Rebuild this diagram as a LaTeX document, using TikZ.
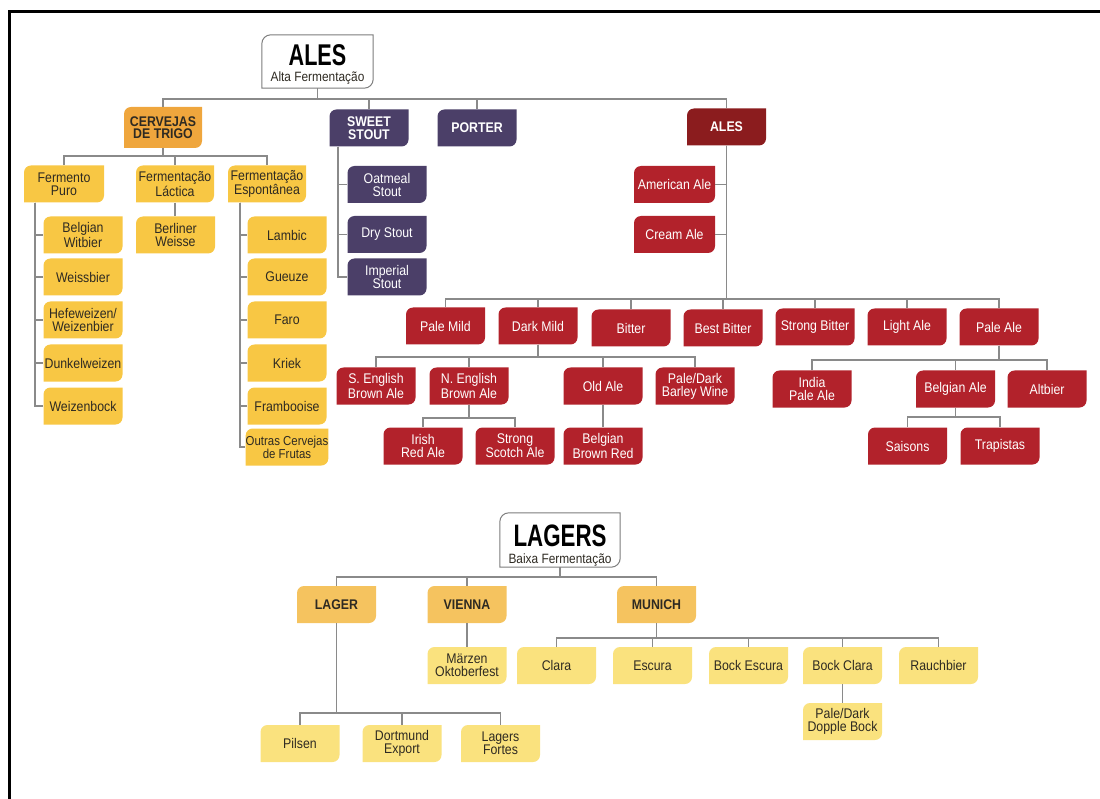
\documentclass[tikz,border=0pt]{standalone}
\usepackage{fontspec}
\setmainfont{Liberation Sans}[FakeStretch=0.88]
\newfontfamily\hd{Liberation Sans}[FakeStretch=0.72]
\definecolor{cWheat}{HTML}{F8C744}
\definecolor{cTrigo}{HTML}{EFA63D}
\definecolor{cLagerH}{HTML}{F5C35F}
\definecolor{cLagerL}{HTML}{FAE27E}
\definecolor{cPurple}{HTML}{4B3F68}
\definecolor{cRed}{HTML}{B2222B}
\definecolor{cDRed}{HTML}{8B1C1E}
\definecolor{cLine}{HTML}{8A8A8A}
\definecolor{cTxt}{HTML}{2E2A22}
\newcommand\leafshape[2]{(#1.south west) -- ([yshift=-#2]#1.north west) arc[start angle=180,end angle=90,radius=#2] -- (#1.north east) -- ([yshift=#2]#1.south east) arc[start angle=0,end angle=-90,radius=#2] -- cycle}
\tikzset{
  base/.style={inner sep=0pt, minimum width=79pt, minimum height=37pt, align=center, font=\fontsize{14}{13}\selectfont},
  leaf/.style={fill=white, path picture={\fill[#1] \leafshape{path picture bounding box}{7pt};}},
  wbox/.style={base, leaf=cWheat, text=cTxt},
  tbox/.style={base, leaf=cTrigo, text=cTxt, font=\bfseries\fontsize{14}{12.5}\selectfont},
  pbox/.style={base, leaf=cPurple, text=white},
  phbox/.style={pbox, font=\bfseries\fontsize{14}{12.5}\selectfont},
  rbox/.style={base, leaf=cRed, text=white},
  drbox/.style={base, leaf=cDRed, text=white, font=\bfseries\fontsize{14}{12.5}\selectfont},
  lhbox/.style={base, leaf=cLagerH, text=cTxt, font=\bfseries\fontsize{14}{12.5}\selectfont},
  llbox/.style={base, leaf=cLagerL, text=cTxt},
  rootbox/.style={inner sep=0pt},
  rootline/.style={draw=cLine!90!black, line width=1pt, fill=white},
  roottitle/.style={anchor=base, inner sep=0pt, text=black, font=\hd\bfseries\fontsize{30}{30}\selectfont},
  rootsub/.style={anchor=base, inner sep=0pt, text=cTxt, font=\fontsize{13.5}{13.5}\selectfont},
  conn/.style={draw=cLine, line width=1.2pt},
}
\begin{document}
\begin{tikzpicture}[x=1pt,y=1pt]
\useasboundingbox (0,0) rectangle (1100,-799);
\draw[line width=3pt] (9.5,-799) -- (9.5,-11.5) -- (1100,-11.5);

% ---------- ALES ----------
\node[rootbox, minimum width=111pt, minimum height=53pt] (ales) at (317.5,-61.5) {};
\draw[rootline] \leafshape{ales}{9pt};
\node[roottitle] (alestitle) at (317.5,-65.5) {ALES};
\node[rootsub] (alessub) at (317.5,-82) {Alta Fermentação};

\node[tbox, minimum width=78pt, minimum height=41pt] (trigo) at (163,-127.5) {CERVEJAS\\DE TRIGO};
\node[phbox] (sweet) at (369,-128) {SWEET\\STOUT};
\node[phbox] (porter) at (477,-128) {PORTER};
\node[drbox] (alesr) at (726.5,-127) {ALES};

\node[wbox, minimum width=80pt] (puro) at (64,-184) {Fermento\\Puro};
\node[wbox, minimum width=78pt] (lactica) at (175,-184) {Fermentação\\Láctica};
\node[wbox, minimum width=78pt] (espont) at (267,-184) {Fermentação\\Espontânea};

\node[wbox] (witbier) at (83,-235) {Belgian\\Witbier};
\node[wbox] (weissbier) at (83,-277) {Weissbier};
\node[wbox] (hefe) at (83,-320) {Hefeweizen/\\Weizenbier};
\node[wbox] (dunkel) at (83,-363) {Dunkelweizen};
\node[wbox] (weizenbock) at (83,-406) {Weizenbock};

\node[wbox] (berliner) at (175.5,-235) {Berliner\\Weisse};

\node[wbox] (lambic) at (287,-235) {Lambic};
\node[wbox] (gueuze) at (287,-277) {Gueuze};
\node[wbox] (faro) at (287,-320) {Faro};
\node[wbox] (kriek) at (287,-363) {Kriek};
\node[wbox] (framb) at (287,-406) {Frambooise};
\node[wbox, font=\fontsize{13}{12}\selectfont] (outras) at (287,-447) {Outras Cervejas\\de Frutas};

\node[pbox] (oatmeal) at (387,-184.5) {Oatmeal\\Stout};
\node[pbox] (dry) at (387,-234.5) {Dry Stout};
\node[pbox] (imperial) at (387,-277) {Imperial\\Stout};

\node[rbox, minimum width=81pt] (american) at (674.5,-184.5) {American Ale};
\node[rbox, minimum width=81pt] (cream) at (674.5,-234.5) {Cream Ale};

\node[rbox] (palemild) at (445.5,-326) {Pale Mild};
\node[rbox] (darkmild) at (538,-326) {Dark Mild};
\node[rbox] (bitter) at (631,-328) {Bitter};
\node[rbox] (bestbitter) at (723,-328) {Best Bitter};
\node[rbox] (strongbitter) at (815,-327) {Strong Bitter};
\node[rbox] (lightale) at (907,-327) {Light Ale};
\node[rbox] (paleale) at (999,-327) {Pale Ale};

\node[rbox] (seng) at (376,-386) {S. English\\Brown Ale};
\node[rbox] (neng) at (469,-386) {N. English\\Brown Ale};
\node[rbox] (oldale) at (603,-386) {Old Ale};
\node[rbox] (barley) at (695,-386) {Pale/Dark\\Barley Wine};

\node[rbox] (irish) at (423,-446) {Irish\\Red Ale};
\node[rbox] (scotch) at (515,-446) {Strong\\Scotch Ale};
\node[rbox] (bbred) at (603,-446) {Belgian\\Brown Red};

\node[rbox] (india) at (812,-389) {India\\Pale Ale};
\node[rbox] (belgian) at (955.5,-389) {Belgian Ale};
\node[rbox] (altbier) at (1047,-389) {Altbier};

\node[rbox] (saisons) at (907.5,-446) {Saisons};
\node[rbox] (trapistas) at (1000,-446) {Trapistas};

% ---------- LAGERS ----------
\node[rootbox, minimum width=120pt, minimum height=54pt] (lagers) at (560,-540) {};
\draw[rootline] \leafshape{lagers}{9pt};
\node[roottitle, font=\hd\bfseries\fontsize{31}{31}\selectfont] (lagerstitle) at (560,-546.5) {LAGERS};
\node[rootsub] (lagerssub) at (560,-563.5) {Baixa Fermentação};

\node[lhbox] (lager) at (336.5,-604.5) {LAGER};
\node[lhbox] (vienna) at (467,-604.5) {VIENNA};
\node[lhbox] (munich) at (656.5,-604.5) {MUNICH};

\node[llbox] (marzen) at (467,-665.5) {Märzen\\Oktoberfest};

\node[llbox] (pilsen) at (300,-743.5) {Pilsen};
\node[llbox] (dortmund) at (402,-743.5) {Dortmund\\Export};
\node[llbox] (fortes) at (500.5,-743.5) {Lagers\\Fortes};

\node[llbox] (clara) at (556.5,-665.5) {Clara};
\node[llbox] (escura) at (652.5,-665.5) {Escura};
\node[llbox] (bockesc) at (748.5,-665.5) {Bock Escura};
\node[llbox] (bockclara) at (842.5,-665.5) {Bock Clara};
\node[llbox] (rauch) at (938.5,-665.5) {Rauchbier};
\node[llbox] (dopple) at (842.5,-721.5) {Pale/Dark\\Dopple Bock};

% ---------- connectors ----------
\coordinate (b1) at (0,-99);
\foreach \c in {trigo,sweet,porter,alesr}
  \draw[conn] (ales.south) |- (b1 -| \c.north) -- (\c.north);
\coordinate (b2) at (0,-156);
\foreach \c in {puro,lactica,espont}
  \draw[conn] (trigo.south) |- (b2 -| \c.north) -- (\c.north);
\coordinate (t1) at (35,0);
\foreach \c in {witbier,weissbier,hefe,dunkel,weizenbock}
  \draw[conn] (puro.south -| t1) |- (\c.west);
\draw[conn] (lactica.south) -- (lactica.south |- berliner.north);
\coordinate (t2) at (240,0);
\foreach \c in {lambic,gueuze,faro,kriek,framb,outras}
  \draw[conn] (espont.south -| t2) |- (\c.west);
\coordinate (t3) at (338,0);
\foreach \c in {oatmeal,dry,imperial}
  \draw[conn] (sweet.south -| t3) |- (\c.west);
\foreach \c in {american,cream}
  \draw[conn] (alesr.south) |- (\c.east);
\coordinate (b3) at (0,-299);
\foreach \c in {palemild,darkmild,bitter,bestbitter,strongbitter,lightale,paleale}
  \draw[conn] (alesr.south) |- (b3 -| \c.north) -- (\c.north);
\coordinate (b4) at (0,-357);
\foreach \c in {seng,neng,oldale,barley}
  \draw[conn] (darkmild.south) |- (b4 -| \c.north) -- (\c.north);
\coordinate (b5) at (0,-418);
\foreach \c in {irish,scotch}
  \draw[conn] (neng.south) |- (b5 -| \c.north) -- (\c.north);
\draw[conn] (oldale.south) -- (bbred.north);
\coordinate (b6) at (0,-360);
\foreach \c in {india,belgian,altbier}
  \draw[conn] (paleale.south) |- (b6 -| \c.north) -- (\c.north);
\coordinate (b7) at (0,-417);
\foreach \c in {saisons,trapistas}
  \draw[conn] (belgian.south) |- (b7 -| \c.north) -- (\c.north);

\coordinate (b8) at (0,-577);
\foreach \c in {lager,vienna,munich}
  \draw[conn] (lagers.south) |- (b8 -| \c.north) -- (\c.north);
\draw[conn] (vienna.south) -- (marzen.north);
\coordinate (b9) at (0,-713);
\foreach \c in {pilsen,dortmund,fortes}
  \draw[conn] (lager.south) |- (b9 -| \c.north) -- (\c.north);
\coordinate (b10) at (0,-638);
\foreach \c in {clara,escura,bockesc,bockclara,rauch}
  \draw[conn] (munich.south) |- (b10 -| \c.north) -- (\c.north);
\draw[conn] (bockclara.south) -- (dopple.north);
\end{tikzpicture}
\end{document}
